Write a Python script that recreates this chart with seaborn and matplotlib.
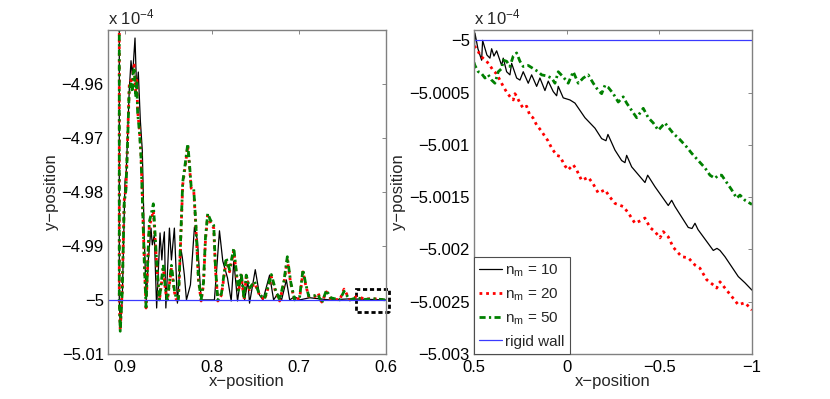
import matplotlib
matplotlib.use("Agg")
import matplotlib.pyplot as plt
import seaborn as sns
from matplotlib.patches import Rectangle
from matplotlib.ticker import FuncFormatter

# y values are in units of 1e-4 (shown with the "x 10^-4" label)

# ---- left panel: whole trajectory ----
left_x_10 = [0.9069, 0.9069, 0.9058, 0.9035, 0.9003, 0.8988, 0.8954, 0.8934, 0.8919, 0.8908,
             0.8888, 0.8873, 0.8862, 0.8850, 0.8827, 0.8804, 0.8781, 0.8758, 0.8735, 0.8704,
             0.8689, 0.8666, 0.8639, 0.8600, 0.8579, 0.8567, 0.8550, 0.8533, 0.8492, 0.8469,
             0.8435, 0.8400, 0.8358, 0.8343, 0.8320, 0.8296, 0.8250, 0.8204, 0.8170, 0.8127,
             0.8012, 0.7974, 0.7916, 0.7878, 0.7824, 0.7781, 0.7751, 0.7708, 0.7666, 0.7627,
             0.7589, 0.7570, 0.7504, 0.7455, 0.7416, 0.7339, 0.7293, 0.7247, 0.7201, 0.7146,
             0.7108, 0.7051, 0.6993, 0.6878, 0.6647, 0.6415, 0.6000]
left_y_10 = [-4.9481, -5.0000, -5.0052, -5.0000, -4.9780, -4.9759, -4.9611, -4.9557, -4.9583, -4.9565,
             -4.9515, -4.9593, -4.9602, -4.9578, -4.9667, -4.9724, -4.9889, -5.0002, -4.9926, -4.9867,
             -4.9898, -4.9880, -5.0015, -4.9876, -4.9926, -4.9898, -4.9874, -5.0015, -4.9867, -4.9926,
             -4.9867, -5.0006, -4.9907, -4.9922, -4.9954, -5.0000, -4.9972, -4.9865, -4.9889, -5.0000,
             -5.0000, -5.0000, -4.9872, -4.9928, -4.9959, -5.0002, -4.9928, -5.0002, -4.9954, -5.0000,
             -4.9965, -5.0006, -4.9944, -4.9991, -5.0000, -4.9954, -5.0000, -4.9989, -5.0000, -4.9963,
             -5.0000, -4.9994, -5.0000, -4.9996, -5.0000, -4.9998, -5.0000]

left_x_20 = [0.9069, 0.9069, 0.9058, 0.9035, 0.9012, 0.8992, 0.8977, 0.8954, 0.8934, 0.8919,
             0.8908, 0.8896, 0.8879, 0.8867, 0.8858, 0.8839, 0.8821, 0.8804, 0.8781, 0.8761,
             0.8740, 0.8723, 0.8700, 0.8677, 0.8642, 0.8608, 0.8585, 0.8562, 0.8539, 0.8516,
             0.8469, 0.8435, 0.8412, 0.8389, 0.8366, 0.8339, 0.8308, 0.8281, 0.8262, 0.8242,
             0.8212, 0.8187, 0.8158, 0.8127, 0.8100, 0.8077, 0.8051, 0.8020, 0.7982, 0.7962,
             0.7935, 0.7893, 0.7839, 0.7800, 0.7751, 0.7723, 0.7697, 0.7666, 0.7633, 0.7608,
             0.7570, 0.7512, 0.7455, 0.7397, 0.7362, 0.7319, 0.7270, 0.7224, 0.7174, 0.7135,
             0.7097, 0.7051, 0.6993, 0.6955, 0.6924, 0.6889, 0.6820, 0.6782, 0.6739, 0.6685,
             0.6636, 0.6532, 0.6482, 0.6416, 0.6339, 0.6243, 0.6128, 0.6000]
left_y_20 = [-4.9481, -5.0000, -5.0056, -4.9981, -4.9815, -4.9793, -4.9722, -4.9602, -4.9593, -4.9611,
             -4.9574, -4.9565, -4.9620, -4.9593, -4.9650, -4.9681, -4.9722, -4.9806, -4.9928, -5.0015,
             -4.9926, -4.9861, -4.9852, -4.9835, -4.9926, -5.0002, -4.9972, -4.9941, -4.9981, -5.0002,
             -4.9941, -4.9985, -5.0000, -5.0002, -4.9907, -4.9787, -4.9750, -4.9715, -4.9750, -4.9793,
             -4.9798, -4.9867, -4.9963, -5.0002, -4.9972, -4.9889, -4.9844, -4.9856, -4.9867, -4.9944,
             -5.0002, -4.9991, -4.9928, -4.9948, -4.9909, -4.9950, -4.9985, -4.9954, -5.0000, -4.9957,
             -4.9981, -4.9969, -4.9991, -5.0000, -4.9981, -4.9957, -4.9985, -5.0002, -4.9969, -4.9926,
             -4.9969, -5.0002, -4.9996, -4.9948, -4.9972, -4.9994, -4.9994, -4.9987, -5.0004, -4.9985,
             -4.9998, -5.0000, -4.9980, -5.0000, -4.9994, -4.9998, -4.9998, -5.0000]

left_x_50 = left_x_20
left_y_50 = [-4.9481, -5.0000, -5.0058, -4.9985, -4.9820, -4.9796, -4.9726, -4.9608, -4.9600, -4.9615,
             -4.9580, -4.9570, -4.9624, -4.9598, -4.9654, -4.9685, -4.9726, -4.9810, -4.9930, -5.0013,
             -4.9920, -4.9855, -4.9840, -4.9822, -4.9920, -5.0000, -4.9966, -4.9935, -4.9978, -5.0000,
             -4.9936, -4.9982, -4.9998, -5.0000, -4.9902, -4.9782, -4.9745, -4.9711, -4.9746, -4.9790,
             -4.9795, -4.9862, -4.9960, -5.0000, -4.9968, -4.9884, -4.9840, -4.9852, -4.9862, -4.9940,
             -5.0000, -4.9988, -4.9922, -4.9944, -4.9904, -4.9946, -4.9982, -4.9950, -4.9998, -4.9954,
             -4.9978, -4.9966, -4.9990, -4.9998, -4.9978, -4.9953, -4.9982, -5.0000, -4.9965, -4.9920,
             -4.9966, -5.0000, -4.9994, -4.9944, -4.9970, -4.9993, -4.9992, -4.9990, -5.0006, -4.9982,
             -4.9996, -5.0000, -4.9984, -5.0000, -4.9996, -4.9999, -4.9998, -5.0000]

left_wall_x = [0.92, 0.6]
left_wall_y = [-5.0, -5.0]

# ---- right panel: zoom near the wall ----
right_x_10 = [0.5000, 0.4946, 0.4784, 0.4585, 0.4531, 0.4299, 0.4137, 0.4045, 0.3921, 0.3775,
              0.3505, 0.3419, 0.3236, 0.3058, 0.2966, 0.2696, 0.2518, 0.2340, 0.2070, 0.1887,
              0.1617, 0.1439, 0.1169, 0.0991, 0.0721, 0.0538, 0.0451, 0.0182, -0.0180, -0.0450,
              -0.0989, -0.1529, -0.1890, -0.2122, -0.2230, -0.2609, -0.2970, -0.3148, -0.3239, -0.3509,
              -0.4227, -0.4373, -0.4766, -0.5484, -0.5667, -0.5845, -0.6563, -0.6763, -0.6925, -0.7087,
              -0.7912, -0.8112, -0.8274, -0.8543, -0.9261, -0.9622, -1.0000]
right_y_10 = [-5.00019, -4.99993, -5.00008, -5.00019, -5.00000, -5.00014, -5.00017, -5.00008, -5.00015, -5.00010,
              -5.00024, -5.00017, -5.00030, -5.00033, -5.00022, -5.00036, -5.00038, -5.00030, -5.00041, -5.00033,
              -5.00044, -5.00036, -5.00048, -5.00039, -5.00049, -5.00053, -5.00044, -5.00055, -5.00057, -5.00060,
              -5.00074, -5.00084, -5.00094, -5.00096, -5.00090, -5.00105, -5.00115, -5.00117, -5.00110, -5.00121,
              -5.00136, -5.00129, -5.00140, -5.00158, -5.00153, -5.00159, -5.00179, -5.00180, -5.00175, -5.00181,
              -5.00201, -5.00199, -5.00201, -5.00207, -5.00226, -5.00232, -5.00239]

right_x_20 = [0.5000, 0.4946, 0.4784, 0.4676, 0.4514, 0.4315, 0.4137, 0.3959, 0.3775, 0.3597,
              0.3419, 0.3219, 0.3004, 0.2879, 0.2788, 0.2680, 0.2518, 0.2340, 0.2156, 0.1978,
              0.1816, 0.1617, 0.1347, 0.1169, 0.1007, 0.0808, 0.0538, 0.0360, 0.0090, -0.0072,
              -0.0358, -0.0541, -0.0811, -0.1167, -0.1421, -0.1707, -0.2069, -0.2338, -0.2609, -0.3056,
              -0.3326, -0.3687, -0.4049, -0.4227, -0.4497, -0.4766, -0.5036, -0.5214, -0.5484, -0.5754,
              -0.6207, -0.6563, -0.6925, -0.7194, -0.7556, -0.7912, -0.8096, -0.8274, -0.8543, -0.8905,
              -0.9261, -0.9622, -1.0000]
right_y_20 = [-5.00006, -5.00006, -5.00010, -5.00014, -5.00017, -5.00020, -5.00024, -5.00029, -5.00032, -5.00038,
              -5.00044, -5.00050, -5.00055, -5.00057, -5.00051, -5.00054, -5.00060, -5.00065, -5.00063, -5.00072,
              -5.00074, -5.00081, -5.00087, -5.00092, -5.00096, -5.00103, -5.00110, -5.00111, -5.00120, -5.00124,
              -5.00119, -5.00124, -5.00134, -5.00131, -5.00137, -5.00146, -5.00143, -5.00150, -5.00156, -5.00159,
              -5.00165, -5.00175, -5.00172, -5.00170, -5.00179, -5.00183, -5.00189, -5.00183, -5.00188, -5.00198,
              -5.00207, -5.00208, -5.00215, -5.00218, -5.00229, -5.00234, -5.00237, -5.00231, -5.00237, -5.00245,
              -5.00253, -5.00251, -5.00258]

right_x_50 = [0.5000, 0.4946, 0.4768, 0.4622, 0.4406, 0.4228, 0.4045, 0.3867, 0.3689, 0.3505,
              0.3419, 0.3236, 0.3058, 0.2879, 0.2696, 0.2518, 0.2340, 0.2070, 0.1800, 0.1530,
              0.1347, 0.1077, 0.0808, 0.0629, 0.0451, 0.0182, -0.0088, -0.0358, -0.0628, -0.0898,
              -0.1167, -0.1437, -0.1707, -0.1890, -0.2069, -0.2247, -0.2516, -0.2786, -0.3056, -0.3239,
              -0.3509, -0.3779, -0.4135, -0.4405, -0.4675, -0.4945, -0.5306, -0.5484, -0.5754, -0.6115,
              -0.6477, -0.6746, -0.7103, -0.7464, -0.7734, -0.8004, -0.8182, -0.8365, -0.8635, -0.8905,
              -0.9175, -0.9353, -0.9622, -1.0000]
right_y_50 = [-5.00021, -5.00024, -5.00030, -5.00031, -5.00036, -5.00033, -5.00038, -5.00041, -5.00030, -5.00027,
              -5.00019, -5.00020, -5.00025, -5.00015, -5.00012, -5.00020, -5.00025, -5.00024, -5.00027, -5.00030,
              -5.00033, -5.00034, -5.00036, -5.00041, -5.00030, -5.00035, -5.00041, -5.00030, -5.00041, -5.00036,
              -5.00033, -5.00041, -5.00048, -5.00051, -5.00043, -5.00045, -5.00051, -5.00059, -5.00054, -5.00060,
              -5.00067, -5.00074, -5.00065, -5.00074, -5.00079, -5.00086, -5.00079, -5.00083, -5.00089, -5.00095,
              -5.00102, -5.00108, -5.00115, -5.00122, -5.00129, -5.00132, -5.00129, -5.00129, -5.00136, -5.00143,
              -5.00151, -5.00148, -5.00153, -5.00157]

right_wall_x = [0.5, -1.0]
right_wall_y = [-5.0, -5.0]

labels = ["$n_m$ = 10", "$n_m$ = 20", "$n_m$ = 50", "rigid wall"]
left_xticks = [0.9, 0.8, 0.7, 0.6]
left_yticks = [-4.96, -4.97, -4.98, -4.99, -5.0, -5.01]
right_xticks = [0.5, 0.0, -0.5, -1.0]
right_yticks = [-5.0, -5.0005, -5.001, -5.0015, -5.002, -5.0025, -5.003]

# Style
sns.set_theme(style="white")
plt.rcParams['font.family'] = ['Liberation Sans', 'DejaVu Sans']
plt.rcParams['mathtext.default'] = 'regular'

colors = ['black', '#ff0000', '#008000', '#3a3aff']
styles = ['-', (0, (1, 1.4)), (0, (2.2, 1.2, 0.8, 1.2)), '-']
widths = [0.9, 2.0, 2.0, 0.9]
fs = 12

fig = plt.figure(figsize=(8.3, 3.99), dpi=100)
ax1 = fig.add_axes([0.130, 0.113, 0.335, 0.812])
ax2 = fig.add_axes([0.571, 0.113, 0.335, 0.812])

left_series = [(left_x_10, left_y_10), (left_x_20, left_y_20),
               (left_x_50, left_y_50), (left_wall_x, left_wall_y)]
right_series = [(right_x_10, right_y_10), (right_x_20, right_y_20),
                (right_x_50, right_y_50), (right_wall_x, right_wall_y)]

for ax, series in [(ax1, left_series), (ax2, right_series)]:
    for (xs, ys), lab, c, ls, lw in zip(series, labels, colors, styles, widths):
        sns.lineplot(x=xs, y=ys, ax=ax, estimator=None, sort=False,
                     color=c, linestyle=ls, linewidth=lw, label=lab, legend=False)


def fmt(v, pos):
    return ('%.6g' % v).replace('-', '\u2212')


ax1.set_xlim(0.92, 0.6)
ax1.set_ylim(-5.01, -4.95)
ax1.set_xticks(left_xticks)
ax1.set_yticks(left_yticks)

ax2.set_xlim(0.5, -1.0)
ax2.set_ylim(-5.003, -4.9999)
ax2.set_xticks(right_xticks)
ax2.set_yticks(right_yticks)

for ax in (ax1, ax2):
    ax.xaxis.set_major_formatter(FuncFormatter(fmt))
    ax.yaxis.set_major_formatter(FuncFormatter(fmt))
    ax.tick_params(direction='in', length=3, width=0.6, color='0.45',
                   labelsize=fs, pad=3, top=True, right=True, labelcolor='black')
    ax.tick_params(axis='x', pad=4.5)
    for sp in ax.spines.values():
        sp.set_color('0.5')
        sp.set_linewidth(1.0)
    ax.set_xlabel('x\u2212position', fontsize=fs, labelpad=-1)
    ax.set_ylabel('y\u2212position', fontsize=fs, labelpad=2)
    ax.text(0.0, 1.008, 'x 10$^{-4}$', transform=ax.transAxes,
            fontsize=fs, ha='left', va='bottom')

# dashed box marking the zoomed region
ax1.add_patch(Rectangle((0.597, -5.0022), 0.038, 0.0042, fill=False,
                        edgecolor='black', linewidth=2.0,
                        linestyle=(0, (1.5, 1.0)), clip_on=False))

handles = ax2.get_lines()[:4]
leg = ax2.legend(handles, labels, loc='lower left', borderaxespad=0,
                 fancybox=False, edgecolor='0.3', framealpha=1, fontsize=11,
                 handlelength=1.5, handletextpad=0.2, borderpad=0.35,
                 labelspacing=0.5)
leg.get_frame().set_linewidth(0.8)

plt.savefig("out.png", dpi=100)
plt.close()
